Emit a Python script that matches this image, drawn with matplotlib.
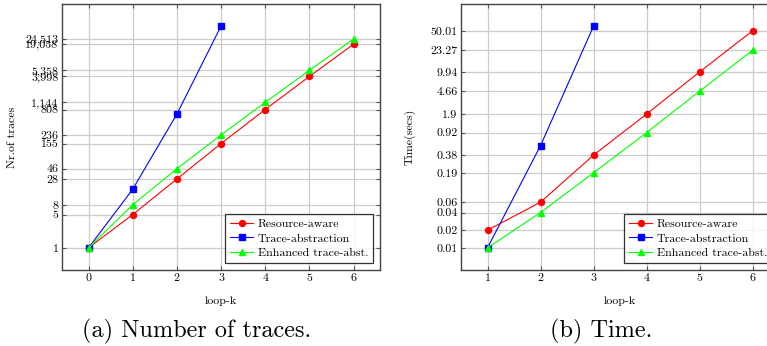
import numpy as np
import matplotlib
matplotlib.use("Agg")
import matplotlib.pyplot as plt

plt.rcParams["font.family"] = ["cmr10", "DejaVu Serif"]
plt.rcParams["axes.formatter.use_mathtext"] = True

# (a) number of traces, k = 0..6
k_traces = [0, 1, 2, 3, 4, 5, 6]
traces_resource = [1, 5, 28, 155, 808, 3998, 19058]
traces_enhanced = [1, 8, 46, 236, 1144, 5358, 24513]
k_traces_abs = [0, 1, 2, 3]
traces_abstraction = [1, 17, 645, 45700]
traces_ticks = [1, 5, 8, 28, 46, 155, 236, 808, 1144, 3998, 5358, 19058, 24513]

# (b) time in seconds, k = 1..6
k_time = [1, 2, 3, 4, 5, 6]
time_resource = [0.02, 0.06, 0.38, 1.9, 9.94, 50.01]
time_enhanced = [0.01, 0.04, 0.19, 0.92, 4.66, 23.27]
k_time_abs = [1, 2, 3]
time_abstraction = [0.01, 0.55, 60.0]
time_ticks = [0.01, 0.02, 0.04, 0.06, 0.19, 0.38, 0.92, 1.9, 4.66, 9.94, 23.27, 50.01]

series_names = ["Resource-aware", "Trace-abstraction", "Enhanced trace-abst."]
FS = 8.6
W, H = 767, 346


def style_axis(ax, xs, all_y, yticks, ylabels, ylabel):
    ax.set_yscale("log")
    xmin, xmax = min(xs), max(xs)
    dx = 0.1 * (xmax - xmin)
    ax.set_xlim(xmin - dx, xmax + dx)
    lo, hi = np.log10(min(all_y)), np.log10(max(all_y))
    dy = 0.1 * (hi - lo)
    ax.set_ylim(10 ** (lo - dy), 10 ** (hi + dy))

    ax.set_xticks(xs)
    ax.set_xticklabels([str(x) for x in xs], fontsize=FS)
    ax.set_yticks(yticks)
    ax.set_yticklabels(ylabels, fontsize=FS)
    ax.minorticks_off()
    ax.tick_params(direction="in", length=3, width=0.8, color="#555555",
                   top=True, right=True, pad=2.5)
    ax.grid(True, color="#cccccc", linewidth=0.9)
    ax.set_axisbelow(True)
    for sp in ax.spines.values():
        sp.set_color("#444444")
        sp.set_linewidth(1.0)

    ax.set_xlabel("loop-k", fontsize=FS)
    ax.xaxis.set_label_coords(0.5, -0.098)
    ax.set_ylabel(ylabel, fontsize=FS)
    ax.yaxis.set_label_coords(-0.143, 0.5)


def draw_series(ax, x_main, y_red, y_green, x_abs, y_blue):
    ax.plot(x_main, y_red, color="red", marker="o", markersize=4.3, lw=0.8,
            label=series_names[0])
    ax.plot(x_abs, y_blue, color="blue", marker="s", markersize=4.0, lw=0.8,
            label=series_names[1])
    ax.plot(x_main, y_green, color="#00ff00", marker="^", markersize=4.3, lw=0.8,
            label=series_names[2])
    leg = ax.legend(loc="lower right", fontsize=FS, frameon=True, fancybox=False,
                    handlelength=1.9, handletextpad=0.4, labelspacing=0.35,
                    borderpad=0.4, borderaxespad=0.6)
    leg.get_frame().set_edgecolor("black")
    leg.get_frame().set_linewidth(0.9)


fig = plt.figure(figsize=(W / 100, H / 100), dpi=100)

ax1 = fig.add_axes([62 / W, (H - 270) / H, 318 / W, 266 / H])
draw_series(ax1, k_traces, traces_resource, traces_enhanced,
            k_traces_abs, traces_abstraction)
style_axis(ax1, k_traces,
           traces_resource + traces_enhanced + traces_abstraction,
           traces_ticks, [f"{v:,}" for v in traces_ticks], "Nr.of traces")

ax2 = fig.add_axes([461 / W, (H - 270) / H, 318 / W, 266 / H])
draw_series(ax2, k_time, time_resource, time_enhanced,
            k_time_abs, time_abstraction)
style_axis(ax2, k_time,
           time_resource + time_enhanced + time_abstraction,
           time_ticks, [f"{v:g}" for v in time_ticks], "Time(secs)")

fig.text(197 / W, 1 - 331 / H, "(a) Number of traces.", fontsize=17.5,
         ha="center", va="center")
fig.text(601 / W, 1 - 331 / H, "(b) Time.", fontsize=17.5,
         ha="center", va="center")

fig.savefig("out.png", dpi=100)
